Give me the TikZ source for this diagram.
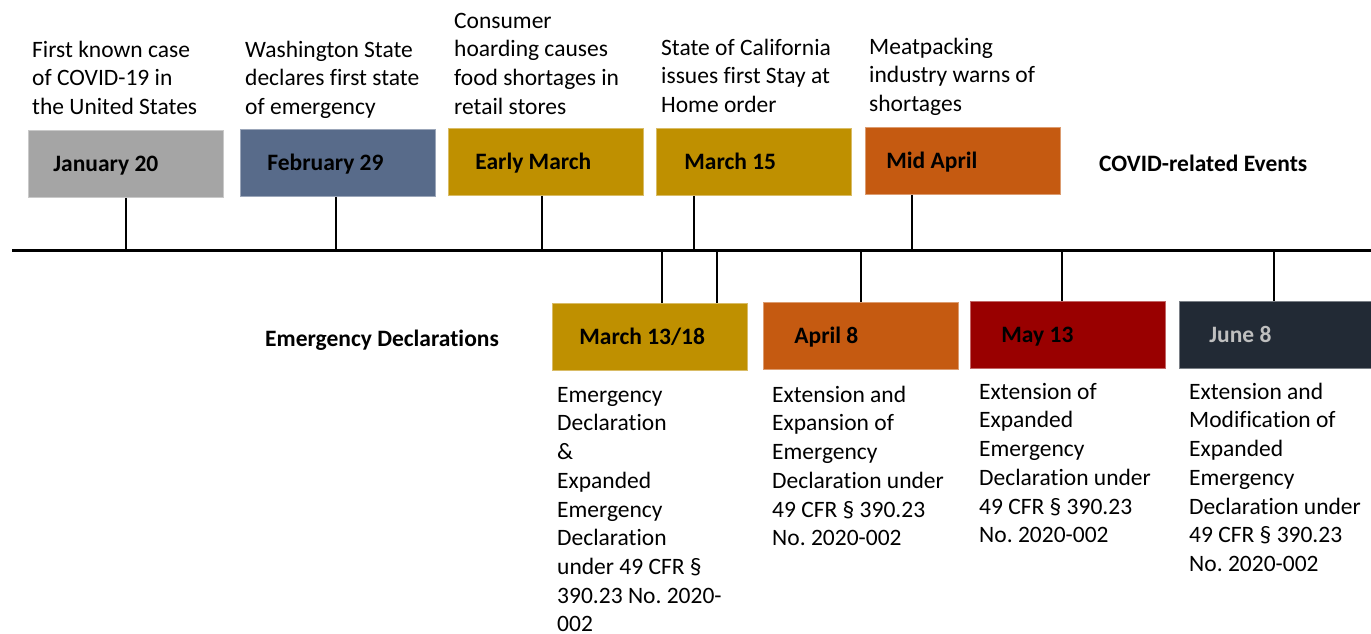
\documentclass[tikz,border=0pt]{standalone}
\usepackage{fontspec}
\setmainfont{Carlito}[Ligatures=NoCommon]
\frenchspacing
\definecolor{cgray}{HTML}{A5A5A5}
\definecolor{cslate}{HTML}{586B8A}
\definecolor{cgold}{HTML}{BF9000}
\definecolor{corange}{HTML}{C55A11}
\definecolor{cred}{HTML}{990000}
\definecolor{cnavy}{HTML}{222A35}
\definecolor{clight}{HTML}{BFBFBF}
\tikzset{
  box/.style={fill=#1, draw=#1!60!white, line width=0.8pt, anchor=north west,
    minimum width=195pt, minimum height=67pt, inner xsep=0pt, inner ysep=0pt,
    text width=195pt, align=flush left, text height=15pt, text depth=0pt,
    font=\fontsize{23.5}{28.7}\selectfont\bfseries},
  desc/.style={anchor=north west, inner sep=0pt, align=flush left,
    font=\fontsize{23.5}{28.7}\selectfont\frenchspacing},
  side/.style={anchor=base west, inner sep=0pt,
    font=\fontsize{23.5}{28.7}\selectfont\bfseries},
  tline/.style={line width=3pt, black},
  stem/.style={line width=1.6pt, black}
}
\begin{document}
\begin{tikzpicture}[x=1pt,y=-1pt]
\useasboundingbox (0,0) rectangle (1371,634);
% timeline
\coordinate (tlL) at (12,250);
\coordinate (tlR) at (1371,250);
% top boxes
\node[box=cgray]   (jan)   at (28,130)  {\hspace*{25pt}January 20};
\node[box=cslate]  (feb)   at (240,129) {\hspace*{27pt}February 29};
\node[box=cgold]   (early) at (448,128) {\hspace*{27pt}Early March};
\node[box=cgold]   (mar15) at (656,128) {\hspace*{28pt}March 15};
\node[box=corange] (midap) at (865,127) {\hspace*{21pt}Mid April};
% bottom boxes
\node[box=cgold]   (m1318) at (552,303) {\hspace*{27pt}March 13/18};
\node[box=corange] (apr8)  at (763,302) {\hspace*{31pt}April 8};
\node[box=cred]    (may13) at (970,301) {\hspace*{31pt}May 13};
\node[box=cnavy, text=clight] (jun8) at (1179,301) {\hspace*{30pt}June 8};
% stems
\draw[stem] (jan.south) -- (jan.south |- tlL);
\draw[stem] (feb.south west) ++(96,0) coordinate (sf) -- (sf |- tlL);
\draw[stem] (early.south west) ++(94,0) coordinate (se) -- (se |- tlL);
\draw[stem] (mar15.south west) ++(38,0) coordinate (sm) -- (sm |- tlL);
\draw[stem] (midap.south west) ++(47,0) coordinate (sa) -- (sa |- tlL);
\draw[stem] (m1318.north west) ++(110,0) coordinate (b1) -- (b1 |- tlL);
\draw[stem] (m1318.north west) ++(165,0) coordinate (b2) -- (b2 |- tlL);
\draw[stem] (apr8.north west) ++(98,0) coordinate (b3) -- (b3 |- tlL);
\draw[stem] (may13.north west) ++(92,0) coordinate (b4) -- (b4 |- tlL);
\draw[stem] (jun8.north west) ++(95,0) coordinate (b5) -- (b5 |- tlL);
\draw[tline] (tlL) -- (tlR);
% top descriptions
\node[desc] (djan) at (32,37) {\strut First known case\\of COVID-19 in\\the United States};
\node[desc] (dfeb) at (245,37) {\strut Washington State\\declares first state\\of emergency};
\node[desc] (dear) at (454,8) {\strut Consumer\\hoarding causes\\food shortages in\\retail stores};
\node[desc] (dm15) at (661,35) {\strut State of California\\issues first Stay at\\Home order};
\node[desc] (dmid) at (869,34) {\strut Meatpacking\\industry warns of\\shortages};
% bottom descriptions
\node[desc] (dm1318) at (557,382) {\strut Emergency\\Declaration\\\&\\Expanded\\Emergency\\Declaration\\under 49 CFR §\\390.23 No. 2020-\\002};
\node[desc] (dapr8) at (772,382) {\strut Extension and\\Expansion of\\Emergency\\Declaration under\\49 CFR § 390.23\\No. 2020-002};
\node[desc] (dmay) at (979,379) {\strut Extension of\\Expanded\\Emergency\\Declaration under\\49 CFR § 390.23\\No. 2020-002};
\node[desc] (djun) at (1189,379) {\strut Extension and\\Modification of\\Expanded\\Emergency\\Declaration under\\49 CFR § 390.23\\No. 2020-002};
% side labels
\node[side] (covid) at (1099,171) {COVID-related Events};
\node[side] (emerg) at (265,346) {Emergency Declarations};
\end{tikzpicture}
\end{document}
